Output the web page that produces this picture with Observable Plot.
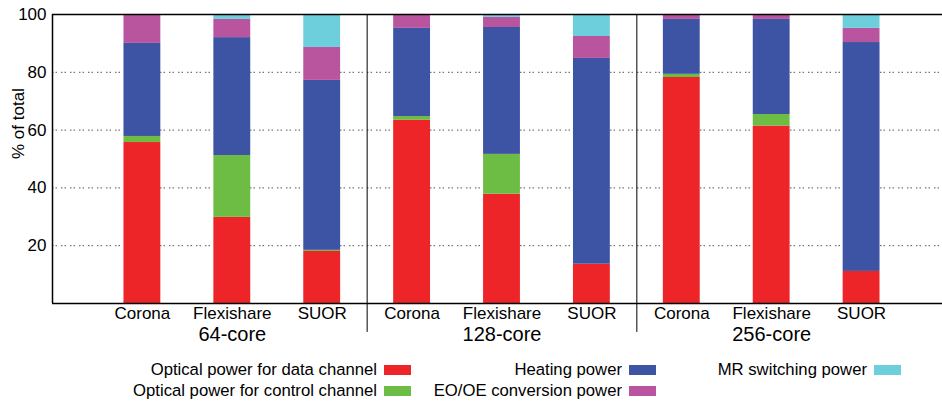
<!DOCTYPE html>
<html>
<head>
<meta charset="utf-8">
<script src="https://cdn.jsdelivr.net/npm/d3@7"></script>
<script src="https://cdn.jsdelivr.net/npm/@observablehq/plot@0.6"></script>
<style>
  body { margin: 0; background: #fff; font-family: "Liberation Sans", Arial, sans-serif; }
  #wrap { position: relative; width: 942px; height: 401px; }
  #legend { position: absolute; left: 0; top: 0; width: 942px; height: 401px; pointer-events: none; }
  .col { position: absolute; width: 245px; }
  .item { display: flex; justify-content: flex-end; align-items: center; height: 21px; font-size: 16.7px; color: #000; white-space: nowrap; }
  .sw { width: 27px; height: 10px; margin-left: 7px; flex: none; }
</style>
</head>
<body>
<div id="wrap"></div>
<script>
const groups = ["64-core", "128-core", "256-core"];
const systems = ["Corona", "Flexishare", "SUOR"];
const series = [
  "Optical power for data channel",
  "Optical power for control channel",
  "Heating power",
  "EO/OE conversion power",
  "MR switching power"
];
const colors = ["#ee2528", "#6dbd45", "#3d54a4", "#b9559f", "#6dcedc"];
// values per bar (order: 64 Corona, Flexishare, SUOR, 128 ..., 256 ...)
const dataChannel    = [55.7, 29.8, 18.0, 63.4, 37.8, 13.6, 78.2, 61.4, 11.1];
const controlChannel = [ 2.1, 21.4,  0.4,  1.3, 13.8,  0.0,  1.1,  4.0,  0.0];
const heating        = [32.2, 40.8, 58.8, 30.5, 43.9, 71.2, 19.0, 32.9, 79.2];
const eoOe           = [10.0,  6.3, 11.4,  4.8,  3.5,  7.6,  1.7,  1.7,  4.9];
const mrSwitching    = [ 0.0,  1.7, 11.4,  0.0,  1.0,  7.6,  0.0,  0.0,  4.8];
const yTicks = [20, 40, 60, 80, 100];

const seriesValues = [dataChannel, controlChannel, heating, eoOe, mrSwitching];

const bars = [];
groups.forEach((g, gi) => systems.forEach((s, si) => bars.push({group: g, system: s, pos: gi * 3 + si + 1})));

const half = 0.205;
const rows = [];
bars.forEach((b, bi) => {
  series.forEach((name, k) => {
    const v = seriesValues[k][bi];
    if (v > 0) rows.push({x1: b.pos - half, x2: b.pos + half, value: v, series: name, k});
  });
});

const groupLabels = groups.map((g, gi) => ({label: g, pos: gi * 3 + 2}));
const separators = groups.slice(1).map((g, gi) => (gi + 1) * 3 + 0.5);

const chart = Plot.plot({
  width: 942,
  height: 352,
  marginLeft: 52,
  marginRight: 0,
  marginTop: 14,
  marginBottom: 49,
  style: {fontFamily: "Liberation Sans, Arial, sans-serif", fontSize: "17px", color: "#000", background: "#fff"},
  x: {domain: [0, 9.9], axis: null},
  y: {domain: [0, 100], axis: null},
  color: {domain: series, range: colors},
  marks: [
    Plot.gridY([20, 40, 60, 80], {stroke: "#555", strokeOpacity: 1, strokeWidth: 1, strokeDasharray: "1.5,2,1.5,4"}),
    Plot.rectY(rows, {x1: "x1", x2: "x2", y: "value", fill: "series", order: series}),
    Plot.ruleY([0, 100], {stroke: "#000", strokeWidth: 1.5}),
    Plot.ruleX([0], {stroke: "#000", strokeWidth: 1.5}),
    Plot.ruleX(separators, {y1: 100, y2: -10, stroke: "#000", strokeWidth: 1, clip: false}),
    Plot.axisY(yTicks, {tickSize: 0, tickPadding: 6, fontSize: 17, label: null}),
    Plot.text(["% of total"], {frameAnchor: "left", dx: -34, rotate: -90, fontSize: 17, fill: "#000"}),
    Plot.text(bars, {x: "pos", text: "system", frameAnchor: "bottom", dy: 15, fontSize: 17, fill: "#000"}),
    Plot.text(groupLabels, {x: "pos", text: "label", frameAnchor: "bottom", dy: 37, fontSize: 20, fill: "#000"})
  ]
});

const wrap = document.getElementById("wrap");
wrap.appendChild(chart);

// legend: column-major, 2 rows
const legend = document.createElement("div");
legend.id = "legend";
const colRights = [411, 656, 901];
const nRows = 2;
colRights.forEach((right, ci) => {
  const col = document.createElement("div");
  col.className = "col";
  col.style.left = (right - 245) + "px";
  col.style.top = "359.5px";
  for (let r = 0; r < nRows; r++) {
    const k = ci * nRows + r;
    if (k >= series.length) break;
    const item = document.createElement("div");
    item.className = "item";
    const t = document.createElement("span");
    t.textContent = series[k];
    const sw = document.createElement("span");
    sw.className = "sw";
    sw.style.background = colors[k];
    item.appendChild(t);
    item.appendChild(sw);
    col.appendChild(item);
  }
  legend.appendChild(col);
});
wrap.appendChild(legend);
</script>
</body>
</html>
